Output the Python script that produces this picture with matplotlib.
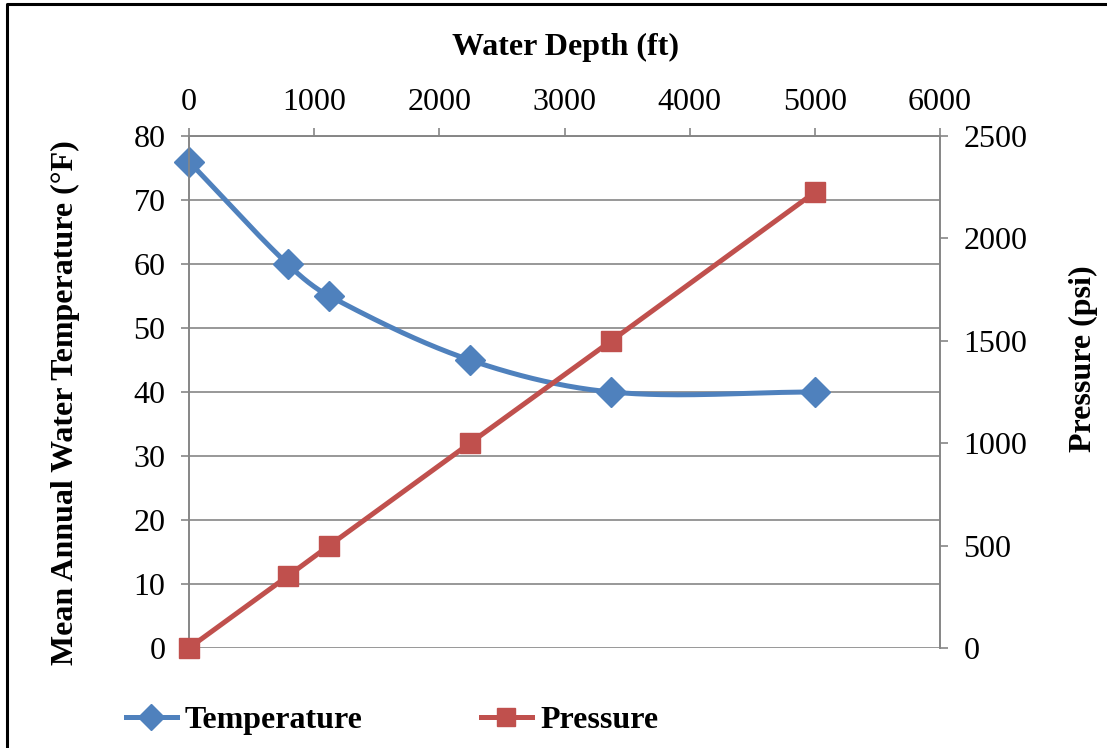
import numpy as np
import matplotlib
matplotlib.use('Agg')
import matplotlib.pyplot as plt
from matplotlib.lines import Line2D

plt.rcParams['font.family'] = ['Liberation Serif', 'DejaVu Serif']

# data
depth_ft = [0, 787, 1120, 2244, 3374, 5000]
temperature_f = [76, 60, 55, 45, 40, 40]
pressure_psi = [0, 350, 500, 1000, 1500, 2225]

x_ticks = [0, 1000, 2000, 3000, 4000, 5000, 6000]
left_ticks = [0, 10, 20, 30, 40, 50, 60, 70, 80]
right_ticks = [0, 500, 1000, 1500, 2000, 2500]

blue = '#4F81BD'
red = '#C0504D'
grey = '#868686'
fs = 23


def smooth_curve(xs, ys, sx, sy, n=50):
    # bezier smoothing done in screen-like units (sx, sy = px per data unit)
    p = np.column_stack([np.asarray(xs) * sx, np.asarray(ys) * sy]).astype(float)
    pts = []
    for i in range(len(p) - 1):
        p0 = p[i - 1] if i > 0 else p[i]
        p1 = p[i]
        p2 = p[i + 1]
        p3 = p[i + 2] if i + 2 < len(p) else p[i + 1]
        d = np.linalg.norm(p2 - p1)
        t1 = p2 - p0
        t2 = p3 - p1
        c1 = p1 + t1 / max(np.linalg.norm(t1), 1e-9) * d / 3
        c2 = p2 - t2 / max(np.linalg.norm(t2), 1e-9) * d / 3
        t = np.linspace(0, 1, n)[:, None]
        seg = ((1 - t) ** 3 * p1 + 3 * (1 - t) ** 2 * t * c1
               + 3 * (1 - t) * t ** 2 * c2 + t ** 3 * p2)
        pts.append(seg if i == 0 else seg[1:])
    pts = np.vstack(pts)
    return pts[:, 0] / sx, pts[:, 1] / sy


fig = plt.figure(figsize=(11.07, 7.48), dpi=100)
ax = fig.add_axes([189 / 1107, 1 - 648 / 748, (940 - 189) / 1107, (648 - 136) / 748])
ax2 = ax.twinx()

cx, cy = smooth_curve(depth_ft, temperature_f, 751 / 6000, 512 / 80)
ax.plot(cx, cy, color=blue, lw=3.6, solid_capstyle='round', zorder=3, clip_on=False)
ax.plot(depth_ft, temperature_f, ls='none', marker='D', ms=15, color=blue, zorder=4, clip_on=False)

ax2.plot(depth_ft, pressure_psi, color=red, lw=3.6, marker='s', ms=14, zorder=3, clip_on=False)

ax.set_xlim(0, 6000)
ax.set_ylim(0, 80)
ax2.set_ylim(0, 2500)
ax.set_xticks(x_ticks)
ax.set_yticks(left_ticks)
ax2.set_yticks(right_ticks)

ax.xaxis.tick_top()
ax.xaxis.set_label_position('top')
ax.set_xlabel('Water Depth (ft)', fontsize=fs, fontweight='bold', va='center', ha='center')
ax.set_ylabel('Mean Annual Water Temperature (°F)', fontsize=fs, fontweight='bold', va='center', ha='center')
ax2.set_ylabel('Pressure (psi)', fontsize=fs, fontweight='bold', va='center', ha='center')
ax.xaxis.set_label_coords((566 - 189) / 751, 1 + (136 - 47) / 512)
ax.yaxis.set_label_coords((65 - 189) / 751, (648 - 403) / 512)
ax2.yaxis.set_label_coords((1083 - 189) / 751, (648 - 359) / 512)

ax.grid(axis='y', color=grey, lw=1.2)
ax.set_axisbelow(True)

for a in (ax, ax2):
    for side in ('left', 'right', 'top'):
        a.spines[side].set_color(grey)
        a.spines[side].set_linewidth(1.2)
    a.spines['bottom'].set_visible(False)
    a.tick_params(colors=grey, labelcolor='black', labelsize=fs, width=1.2, length=6, direction='out')
ax.tick_params(axis='x', pad=8)
ax.tick_params(axis='y', pad=11)
ax2.tick_params(axis='y', pad=11)

handles = [
    Line2D([], [], color=blue, lw=3.6, marker='D', ms=13),
    Line2D([], [], color=red, lw=3.6, marker='s', ms=13),
]
fig.legend(handles, ['Temperature', 'Pressure'], loc='center', bbox_to_anchor=(0.354, 0.037),
           ncol=2, frameon=False, handlelength=1.6, handletextpad=0.25, columnspacing=3.7,
           prop={'size': fs, 'weight': 'bold'})

# outer frame (partly cut off on the right and bottom)
fig.add_artist(Line2D([7 / 1107, 7 / 1107, 1.0], [0.0, 1 - 4 / 748, 1 - 4 / 748],
                      transform=fig.transFigure, color='black', lw=2.2))

fig.savefig('out.png', dpi=100, facecolor='white')
